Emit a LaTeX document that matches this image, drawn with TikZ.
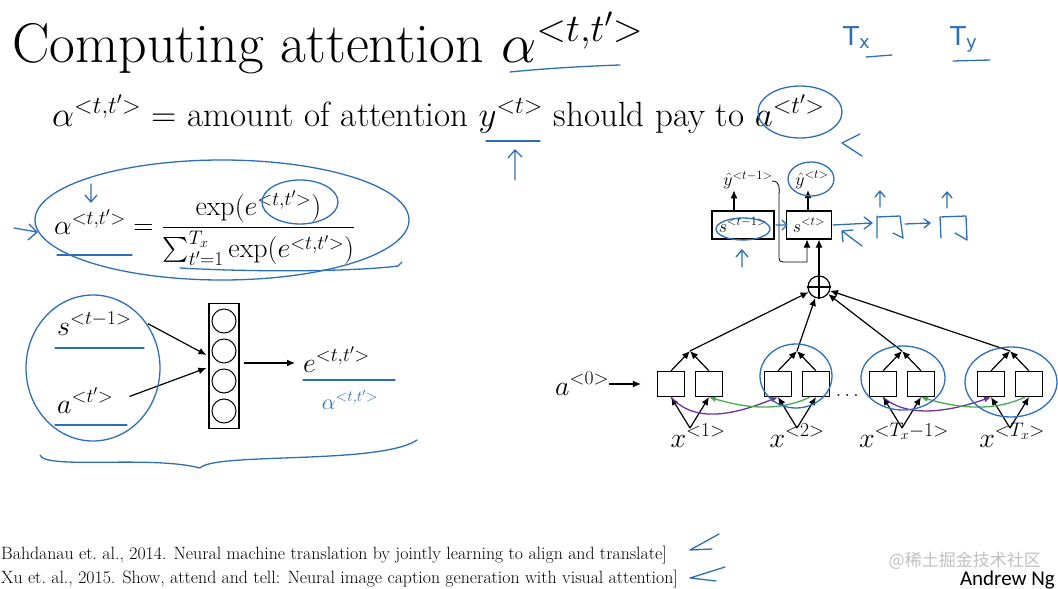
\RequirePackage{fix-cm}
\documentclass[tikz,border=0pt]{standalone}
\usepackage{fontspec}
\usepackage{amsmath}
\usepackage{tikz}
\usetikzlibrary{arrows.meta, positioning, calc}
\newfontfamily\cjkfont{Noto Sans CJK SC}
\newfontfamily\ngfont{Carlito}
\newfontfamily\handfont{DejaVu Sans}
\definecolor{pen}{RGB}{45,110,185}
\definecolor{fwdarc}{RGB}{112,48,160}
\definecolor{bwdarc}{RGB}{70,170,80}

\begin{document}
\begin{tikzpicture}[x=1pt, y=-1pt,
    cell/.style={draw, line width=1.2pt, fill=white, minimum width=27pt, minimum height=25pt, inner sep=0pt},
    unit/.style={draw, circle, line width=1pt, minimum size=24pt, inner sep=0pt},
    arr/.style={-{Latex[length=8pt,width=7pt]}, line width=1.2pt},
    arc/.style={-{Latex[length=7pt,width=6pt]}, line width=1.3pt},
    ink/.style={pen, line width=1.3pt, line cap=round, line join=round},
    big/.style={font=\fontsize{28}{34}\selectfont},
    small/.style={font=\fontsize{18}{21}\selectfont}]
  \useasboundingbox (0,0) rectangle (1058,589);

  % heading
  \node[anchor=base west, inner sep=0pt, font=\fontsize{56}{66}\selectfont] (title) at (12,62) {Computing attention $\alpha^{<t,t'>}$};
  \node[anchor=base west, inner sep=0pt, font=\fontsize{35}{41}\selectfont] (meaning) at (52,126) {$\alpha^{<t,t'>}$ = amount of attention $y^{<t>}$ should pay to $a^{<t'>}$};

  % softmax
  \node[anchor=west, inner sep=0pt, big] (softmax) at (54,228) {$\alpha^{<t,t'>} = \dfrac{\exp(e^{<t,t'>})}{\sum_{t'=1}^{T_x}\exp(e^{<t,t'>})}$};

  % small network
  \node[anchor=base west, inner sep=0pt, big] (sprev) at (57,335) {$s^{<t-1>}$};
  \node[anchor=base west, inner sep=0pt, big] (aprev) at (57,413) {$a^{<t'>}$};
  \node[draw, line width=1.2pt, minimum width=30pt, minimum height=125pt, inner sep=0pt] (dense) at (224,366) {};
  \foreach \k/\yy in {1/321, 2/351, 3/381, 4/411}
    \node[unit] (u\k) at (224,\yy) {};
  \node[anchor=base west, inner sep=0pt, big] (energy) at (303,372) {$e^{<t,t'>}$};
  \draw[arr] ($(sprev.east)+(16,0)$) -- ($(dense.west)+(-2,-11)$);
  \draw[arr] ($(aprev.east)+(16,-4)$) -- ($(dense.west)+(-2,2)$);
  \draw[arr] ($(dense.east)+(4,-3)$) -- ($(energy.west |- dense.east)+(-8,-3)$);

  % decoder
  \node[draw, line width=1.2pt, minimum width=62pt, minimum height=28pt, inner sep=0pt, small] (sbox1) at (743,225) {$s^{<t-1>}$};
  \node[draw, line width=1.2pt, minimum width=45pt, minimum height=28pt, inner sep=0pt, small] (sbox2) at (809,225) {$s^{<t>}$};
  \node[small, inner sep=1pt] (yhat1) at (748,180) {$\hat{y}^{<t-1>}$};
  \node[small, inner sep=1pt] (yhat2) at (812,180) {$\hat{y}^{<t>}$};
  \draw[arr] ($(sbox1.north)+(-9,0)$) -- ($(yhat1.south)+(-14,0)$);
  \draw[arr] ($(sbox2.north)+(-1,0)$) -- ($(yhat2.south)+(-4,0)$);
  \node[draw, circle, line width=1.2pt, minimum size=22pt, inner sep=0pt] (plus) at (819,287) {};
  \draw[line width=1.2pt] (plus.north) -- (plus.south) (plus.west) -- (plus.east);
  \draw[arr] (plus) -- (plus |- sbox2.south);
  \coordinate (bendtop) at (779,198);
  \coordinate (bendlow) at (779,262);
  \draw[-{Latex[length=8pt,width=7pt]}, line width=0.8pt] ($(yhat1.east)+(-2,1)$) .. controls +(9,0) and +(0,-10) .. (bendtop) -- ($(bendlow)+(0,-8)$) .. controls (bendlow) .. ($(bendlow)+(8,0)$) -| ($(sbox2.south)+(-2,0)$);

  % encoder
  \node[anchor=base west, inner sep=0pt, big] (a0) at (555,395) {$a^{<0>}$};
  \foreach \i/\cx in {1/690, 2/797, 3/902, 4/1010} {
    \node[cell] (fw\i) at (\cx-19,384) {};
    \node[cell] (bw\i) at (\cx+19,384) {};
    \coordinate (join\i) at (\cx,351);
    \coordinate (src\i) at (\cx,428);
    \draw[arr] (fw\i.north) -- (join\i);
    \draw[arr] (bw\i.north) -- (join\i);
    \draw[arr] (join\i) -- (plus);
    \draw[arr] (src\i) -- (fw\i.south);
    \draw[arr] (src\i) -- (bw\i.south);
  }
  \draw[arr] (a0.east |- fw1.west) -- ($(fw1.west)+(-16,0)$);
  \node[anchor=base, inner sep=0pt, font=\fontsize{20}{24}\selectfont] (dots) at (849,396) {$\dots$};
  \node[anchor=base, inner sep=0pt, big] (x1) at (698,447) {$x^{<1>}$};
  \node[anchor=base, inner sep=0pt, big] (x2) at (797,447) {$x^{<2>}$};
  \node[anchor=base, inner sep=0pt, big] (x3) at (904,447) {$x^{<T_x-1>}$};
  \node[anchor=base, inner sep=0pt, big] (x4) at (1012,447) {$x^{<T_x>}$};
  \draw[arc, fwdarc] (fw1.south) .. controls +(25,28) and +(-40,16) .. (fw2.south);
  \draw[arc, bwdarc] ($(bw2.south)+(-6,0)$) .. controls +(-30,14) and +(40,12) .. (bw1.south);
  \draw[arc, fwdarc] (fw3.south) .. controls +(25,22) and +(-40,14) .. (fw4.south);
  \draw[arc, bwdarc] ($(bw4.south)+(-4,0)$) .. controls +(-30,14) and +(40,12) .. (bw3.south);

  % references
  \node[anchor=base west, inner sep=0pt, font=\fontsize{17.8}{21}\selectfont] (ref1) at (1,559) {Bahdanau et.\ al., 2014. Neural machine translation by jointly learning to align and translate]};
  \node[anchor=base west, inner sep=0pt, font=\fontsize{17.8}{21}\selectfont] (ref2) at (1,583) {Xu et.\ al., 2015. Show, attend and tell: Neural image caption generation with visual attention]};
  \node[anchor=base east, inner sep=0pt, text=black!25, font=\fontsize{17}{20}\cjkfont] (mark) at (1041,566) {@稀土掘金技术社区};
  \node[anchor=base east, inner sep=0pt, font=\fontsize{21}{24}\ngfont] (author) at (1055,585) {Andrew Ng};

  % hand notes
  \draw[ink] (510,72) .. controls (550,68) and (590,66) .. (620,65);
  \node[pen, anchor=base west, inner sep=0pt, font=\fontsize{26}{30}\handfont] (tx) at (843,45) {T\raisebox{-3pt}{\fontsize{18}{20}\selectfont x}};
  \node[pen, anchor=base west, inner sep=0pt, font=\fontsize{26}{30}\handfont] (ty) at (950,45) {T\raisebox{-3pt}{\fontsize{18}{20}\selectfont y}};
  \draw[ink] (866,57) -- (892,55);
  \draw[ink] (953,61) -- (990,60);
  \draw[ink] (486,141) -- (540,141);
  \draw[ink] (515,180) -- (515,150) (508,158) -- (515,150) -- (522,157);
  \draw[ink] (800,112) ellipse [x radius=42, y radius=26];
  \draw[ink] (860,134) -- (842,143) -- (862,156);
  \draw[ink] (222,220) ellipse [x radius=187, y radius=60];
  \draw[ink] (14,228) -- (37,232) (29,224) -- (37,232) -- (28,240);
  \draw[ink] (91,184) -- (91,202) (85,195) -- (91,202) -- (97,195);
  \draw[ink] (300,202) ellipse [x radius=38, y radius=22];
  \draw[ink] (57,255) -- (132,255);
  \draw[ink] (180,268) .. controls (250,272) and (350,272) .. (398,266) -- (402,262);
  \draw[ink] (93,368) ellipse [x radius=67, y radius=73];
  \draw[ink] (55,348) -- (144,348) (55,425) -- (127,425) (303,380) -- (395,380);
  \node[pen, inner sep=0pt, font=\fontsize{22}{26}\selectfont] (alphanote) at (350,400) {$\alpha^{<t,t'>}$};
  \draw[ink] (40,455) .. controls (45,470) and (150,455) .. (200,468) .. controls (215,452) and (380,465) .. (417,440);
  \draw[ink] (796,376) ellipse [x radius=36, y radius=32];
  \draw[ink] (903,378) ellipse [x radius=42, y radius=32];
  \draw[ink] (1011,382) ellipse [x radius=46, y radius=35];
  \draw[ink] (811,179) ellipse [x radius=23, y radius=17];
  \draw[ink] (743,229) ellipse [x radius=27, y radius=11];
  \draw[ink] (742,267) -- (742,250) (736,257) -- (742,250) -- (748,257);
  \draw[ink] (776,225) -- (787,225) (782,220) -- (787,225) -- (782,230);
  \draw[ink] (833,225) -- (872,223) (864,217) -- (872,223) -- (864,229);
  \draw[ink] (862,246) -- (842,231) (843,242) -- (842,231) -- (853,230);
  \draw[ink] (877,216) -- (877,238) (877,217) -- (900,216) -- (903,238) -- (893,233);
  \draw[ink] (940,217) -- (941,238) (940,217) -- (966,216) -- (967,240) -- (955,233);
  \draw[ink] (905,224) -- (930,223) (924,219) -- (930,223) -- (924,228);
  \draw[ink] (880,207) -- (880,191) (875,197) -- (880,191) -- (885,197);
  \draw[ink] (947,208) -- (947,192) (942,198) -- (947,192) -- (952,198);
  \draw[ink] (719,534) -- (690,550) -- (712,549);
  \draw[ink] (725,567) -- (690,578) -- (716,581);
\end{tikzpicture}
\end{document}
